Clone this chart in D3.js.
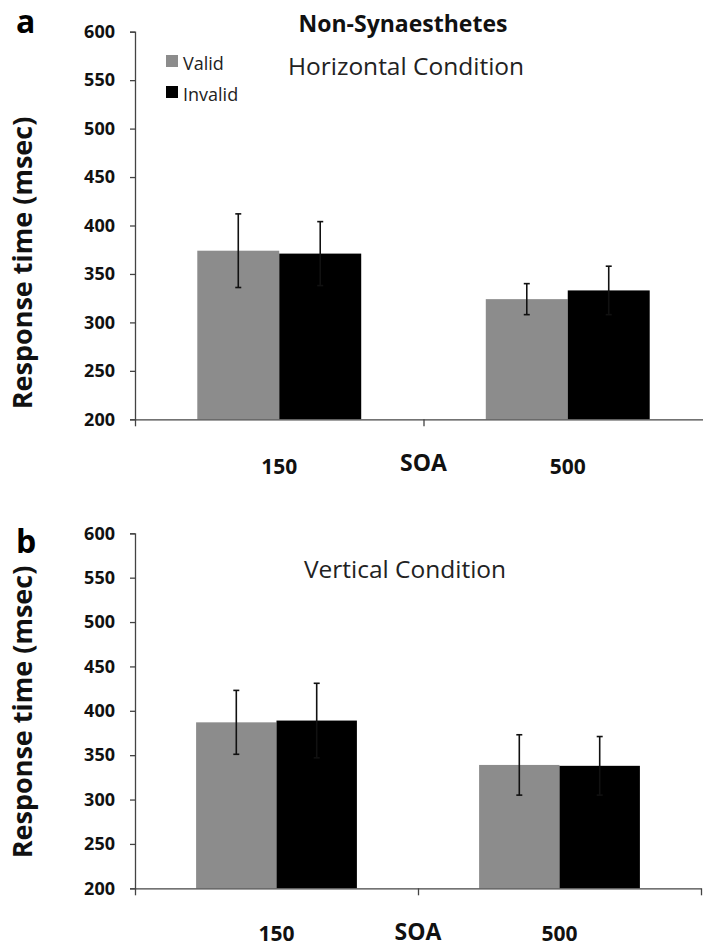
<!DOCTYPE html>
<meta charset="utf-8">
<html>
  <head>
    <title>Non-Synaesthetes response times</title>
    <style>
      body { margin: 0; background: #fff; font-family: "Open Sans", sans-serif; }
    </style>
  </head>
  <body>
    <div id="chart"></div>
    <script src="https://d3js.org/d3.v7.min.js"></script>
    <script>

      // data
      const categories = ["150", "500"];
      const seriesNames = ["Valid", "Invalid"];
      const yTicks = [200, 250, 300, 350, 400, 450, 500, 550, 600];

      const horizValid = [374, 324];
      const horizValidErr = [38, 16];
      const horizInvalid = [371, 333];
      const horizInvalidErr = [33, 25];

      const vertValid = [387, 339];
      const vertValidErr = [36, 34];
      const vertInvalid = [389, 338];
      const vertInvalidErr = [42, 33];

      const colors = ["#8c8c8c", "#000000"];

      const W = 703, H = 948;
      const svg = d3.select("#chart")
        .append("svg")
          .attr("width", W)
          .attr("height", H);

      const font = "'Open Sans', sans-serif";

      function drawPanel(opt) {
        const g = svg.append("g");

        const yScale = d3.scaleLinear()
          .domain([200, 600])
          .range([opt.bottom, opt.top]);

        const xScale = d3.scaleBand()
          .domain(categories)
          .range([opt.left, opt.right]);

        const inner = d3.scaleBand()
          .domain(seriesNames)
          .range([0, xScale.bandwidth()])
          .paddingInner(0)
          .paddingOuter(0.76);

        // y axis
        const yAxis = g.append("g")
          .attr("transform", `translate(${opt.left},0)`)
          .call(d3.axisLeft(yScale).tickValues(yTicks).tickSize(5).tickPadding(15));
        yAxis.selectAll("text")
          .style("font-family", font)
          .style("font-weight", "bold")
          .style("font-size", "18px")
          .attr("fill", "#111");
        yAxis.selectAll("line, path").attr("stroke", "#444").attr("stroke-width", 1.3);

        // bars
        const rows = categories.map((c, i) => ({
          cat: c,
          vals: [
            {key: "Valid", v: opt.valid[i], e: opt.validErr[i]},
            {key: "Invalid", v: opt.invalid[i], e: opt.invalidErr[i]}
          ]
        }));

        const groups = g.selectAll(".grp")
          .data(rows)
          .join("g")
            .attr("transform", d => `translate(${xScale(d.cat)},0)`);

        groups.selectAll("rect")
          .data(d => d.vals)
          .join("rect")
            .attr("x", d => inner(d.key))
            .attr("width", inner.bandwidth())
            .attr("y", d => yScale(d.v))
            .attr("height", d => yScale(200) - yScale(d.v))
            .attr("fill", (d, i) => colors[i]);

        // error bars
        const eb = groups.selectAll(".err")
          .data(d => d.vals)
          .join("g")
            .attr("transform", d => `translate(${inner(d.key) + inner.bandwidth() / 2},0)`);
        eb.append("line")
          .attr("y1", d => yScale(d.v + d.e))
          .attr("y2", d => yScale(d.v - d.e))
          .attr("stroke", "#111").attr("stroke-width", 1.6);
        eb.append("line")
          .attr("x1", -3).attr("x2", 3)
          .attr("y1", d => yScale(d.v + d.e)).attr("y2", d => yScale(d.v + d.e))
          .attr("stroke", "#111").attr("stroke-width", 1.6);
        eb.append("line")
          .attr("x1", -3).attr("x2", 3)
          .attr("y1", d => yScale(d.v - d.e)).attr("y2", d => yScale(d.v - d.e))
          .attr("stroke", "#111").attr("stroke-width", 1.6);

        // x axis line with ticks at band boundaries
        const edges = d3.scaleLinear().domain([0, categories.length]).range([opt.left, opt.right]);
        const xAxis = g.append("g")
          .attr("transform", `translate(0,${yScale(200)})`)
          .call(d3.axisBottom(edges).tickValues([0, 1, 2]).tickSize(7).tickSizeOuter(0).tickFormat(""));
        xAxis.selectAll("line, path").attr("stroke", "#444").attr("stroke-width", 1.3);

        // category labels, well below the axis
        g.selectAll(".catlab")
          .data(categories)
          .join("text")
            .attr("x", d => xScale(d) + xScale.bandwidth() / 2)
            .attr("y", yScale(200) + opt.labPad)
            .attr("text-anchor", "middle")
            .style("font-family", font)
            .style("font-weight", "bold")
            .style("font-size", "21px")
            .attr("fill", "#111")
            .text(d => d);

        g.append("text")
          .attr("x", edges(1))
          .attr("y", yScale(200) + opt.soaPad)
          .attr("text-anchor", "middle")
          .style("font-family", font)
          .style("font-weight", "bold")
          .style("font-size", "23px")
          .attr("fill", "#111")
          .text("SOA");

        // y axis title
        g.append("text")
          .attr("transform", `translate(32,${opt.titleMid}) rotate(-90)`)
          .attr("text-anchor", "middle")
          .style("font-family", font)
          .style("font-weight", "bold")
          .style("font-size", "27px")
          .attr("fill", "#111")
          .text("Response time (msec)");

        // panel letter
        g.append("text")
          .attr("x", 16)
          .attr("y", opt.letterY)
          .style("font-family", font)
          .style("font-weight", "bold")
          .style("font-size", "32px")
          .text(opt.letter);

        // condition title
        g.append("text")
          .attr("x", opt.condX)
          .attr("y", opt.condY)
          .attr("text-anchor", "middle")
          .style("font-family", font)
          .style("font-size", "24.5px")
          .attr("fill", "#222")
          .text(opt.cond);

        return g;
      }

      drawPanel({
        top: 31.7, bottom: 419.3, left: 135, right: 712,
        valid: horizValid, validErr: horizValidErr,
        invalid: horizInvalid, invalidErr: horizInvalidErr,
        labPad: 55, soaPad: 52, titleMid: 263, letter: "a", letterY: 33,
        cond: "Horizontal Condition", condX: 406, condY: 75
      });

      drawPanel({
        top: 533.3, bottom: 888.3, left: 135, right: 701,
        valid: vertValid, validErr: vertValidErr,
        invalid: vertInvalid, invalidErr: vertInvalidErr,
        labPad: 53, soaPad: 52, titleMid: 712, letter: "b", letterY: 553,
        cond: "Vertical Condition", condX: 405, condY: 578
      });

      // main title
      svg.append("text")
        .attr("x", 403)
        .attr("y", 32)
        .attr("text-anchor", "middle")
        .style("font-family", font)
        .style("font-weight", "bold")
        .style("font-size", "23px")
        .attr("fill", "#111")
        .text("Non-Synaesthetes");

      // legend
      const legend = svg.append("g").attr("transform", "translate(166,55)");
      const li = legend.selectAll("g")
        .data(seriesNames)
        .join("g")
          .attr("transform", (d, i) => `translate(0,${i * 31})`);
      li.append("rect")
        .attr("width", 12).attr("height", 12)
        .attr("fill", (d, i) => colors[i]);
      li.append("text")
        .attr("x", 17).attr("y", 15)
        .style("font-family", font)
        .style("font-size", "18px")
        .attr("fill", "#222")
        .text(d => d);

    </script>
  </body>
</html>
